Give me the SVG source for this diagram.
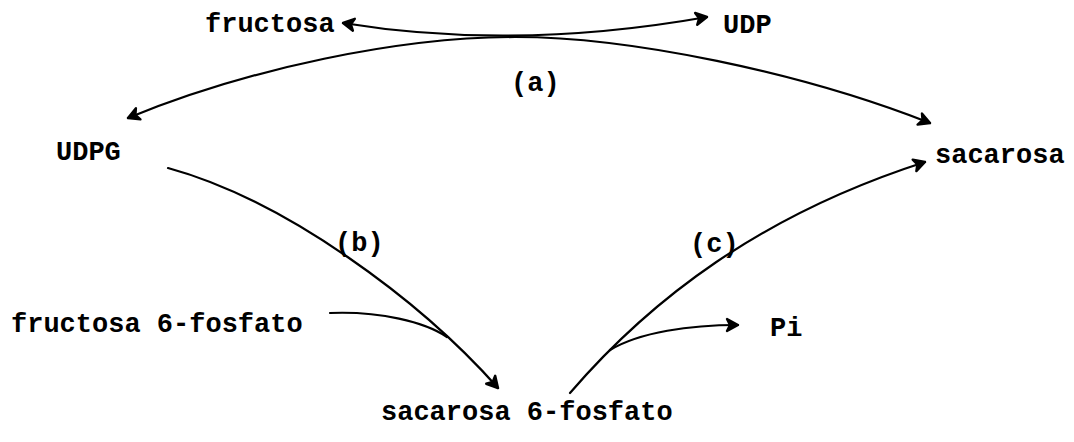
<svg xmlns="http://www.w3.org/2000/svg" width="1074" height="442" viewBox="0 0 1074 442">
<style>
  text { font-family: "Liberation Mono", "DejaVu Sans Mono", monospace; font-size: 27px; font-weight: bold; fill: #000; }
  .c { fill: none; stroke: #000; stroke-width: 2.2; stroke-linecap: round; }
</style>
<defs>
  <marker id="ah" markerUnits="userSpaceOnUse" viewBox="0 0 16 16" refX="13" refY="8" markerWidth="16" markerHeight="16" orient="auto-start-reverse">
    <path d="M2,2 L13,8 L2,14 L5,8 Z" fill="#000" stroke="#000" stroke-width="2.4" stroke-linejoin="round" stroke-linecap="round"/>
  </marker>
</defs>
<rect width="1074" height="442" fill="#fff"/>
<g id="n-fructosa"><text x="205" y="32">fructosa</text></g>
<g id="n-udp"><text x="723" y="33">UDP</text></g>
<g id="n-udpg"><text x="56" y="160">UDPG</text></g>
<g id="n-sacarosa"><text x="935" y="163">sacarosa</text></g>
<g id="n-f6p"><text x="11" y="332">fructosa 6-fosfato</text></g>
<g id="n-s6p"><text x="381" y="420">sacarosa 6-fosfato</text></g>
<g id="n-pi"><text x="770" y="336">Pi</text></g>
<g id="labels">
  <text x="511" y="91">(a)</text>
  <text x="335" y="251">(b)</text>
  <text x="690" y="252">(c)</text>
</g>
<g id="connectors">
  <path class="c" d="M343,23 Q515,51 707,17" marker-start="url(#ah)" marker-end="url(#ah)"/>
  <path class="c" d="M128,118 C250,68 400,37 515,37 S800,72 930,123" marker-start="url(#ah)" marker-end="url(#ah)"/>
  <path class="c" d="M168,168 C285,200 420,300 498,388" marker-end="url(#ah)"/>
  <path class="c" d="M330,313 C380,311 425,322 447,337"/>
  <path class="c" d="M570,393 C650,300 760,215 925,162" marker-end="url(#ah)"/>
  <path class="c" d="M610,350 C640,332 690,325 738,325" marker-end="url(#ah)"/>
</g>
</svg>
